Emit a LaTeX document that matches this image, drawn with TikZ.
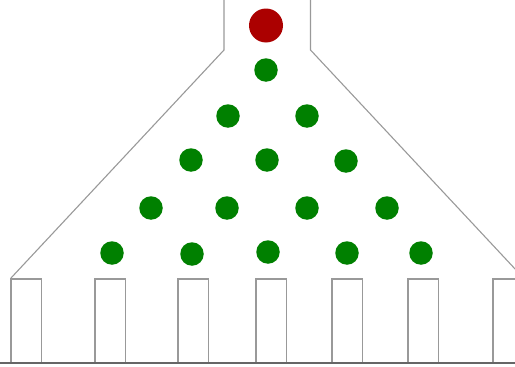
\documentclass[tikz,border=0pt]{standalone}
\begin{document}
\begin{tikzpicture}[x=1pt,y=-1pt,
  funnel/.style={draw=black!40,line width=1.1pt},
  bin/.style={draw=black!40,line width=1.2pt},
  floor/.style={draw=black!60,line width=1.2pt},
  peg/.style={circle,fill=green!50!black,inner sep=0pt,minimum size=23.5pt},
  ball/.style={circle,fill=red!67!black,inner sep=0pt,minimum size=34pt}]
\useasboundingbox (0,0) rectangle (515,367);
\clip (0,0) rectangle (515,367);
\draw[funnel] (224,-2) -- (224,50) -- (11,278);
\draw[funnel] (310.5,-2) -- (310.5,50) -- (523.5,278);
\foreach \x in {11,95,178,256,332,408,493}
  \draw[bin] (\x,363) -- (\x,279) -- (\x+30.5,279) -- (\x+30.5,363);
\draw[floor] (0,363) -- (515,363);
\node[ball] (b) at (266,25.5) {};
\node[peg] (p1) at (266,70) {};
\node[peg] (p21) at (228,116) {};
\node[peg] (p22) at (307,116) {};
\node[peg] (p31) at (191,160) {};
\node[peg] (p32) at (267,160) {};
\node[peg] (p33) at (346,161) {};
\node[peg] (p41) at (151,208) {};
\node[peg] (p42) at (227,208) {};
\node[peg] (p43) at (307,208) {};
\node[peg] (p44) at (387,208) {};
\node[peg] (p51) at (112,253) {};
\node[peg] (p52) at (192,254) {};
\node[peg] (p53) at (268,252) {};
\node[peg] (p54) at (347,253) {};
\node[peg] (p55) at (421,253) {};
\end{tikzpicture}
\end{document}
